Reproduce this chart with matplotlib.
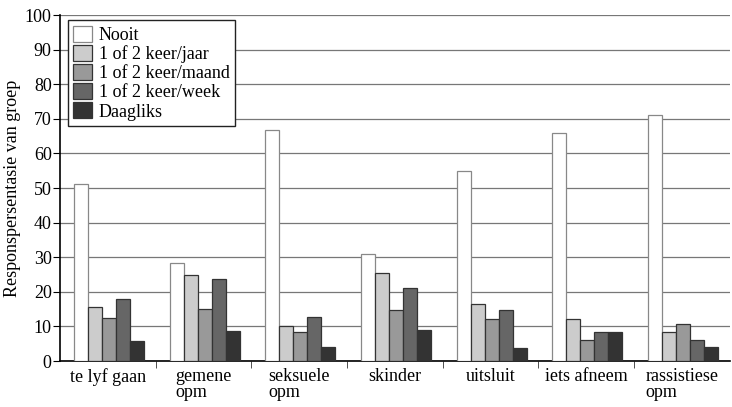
import matplotlib
matplotlib.use("Agg")
import matplotlib.pyplot as plt
import numpy as np

categories = ["te lyf gaan", "gemene\nopm", "seksuele\nopm", "skinder",
              "uitsluit", "iets afneem", "rassistiese\nopm"]
series_names = ["Nooit", "1 of 2 keer/jaar", "1 of 2 keer/maand",
                "1 of 2 keer/week", "Daagliks"]
nooit = [51.3, 28.2, 66.7, 31.0, 54.8, 66.0, 71.0]
jaar = [15.5, 25.0, 10.0, 25.3, 16.5, 12.2, 8.5]
maand = [12.3, 15.0, 8.3, 14.8, 12.2, 6.0, 10.7]
week = [17.8, 23.8, 12.7, 21.2, 14.8, 8.3, 6.0]
daagliks = [5.8, 8.7, 4.0, 9.0, 3.7, 8.3, 4.0]
colors = ["#ffffff", "#cccccc", "#999999", "#666666", "#333333"]

plt.rcParams['font.family'] = ['Liberation Serif', 'DejaVu Serif']

fig = plt.figure(figsize=(7.32, 4.07), dpi=100)
ax = fig.add_axes([0.082, 0.113, 0.915, 0.85])

x = np.arange(len(categories))
w = 0.146
for j, vals in enumerate([nooit, jaar, maand, week, daagliks]):
    ec = "#888888" if j == 0 else "#333333"
    ax.bar(x + w + w * (j + 0.5), vals, w, color=colors[j], edgecolor=ec,
           linewidth=0.9, label=series_names[j], zorder=3)

ax.set_xlim(0, len(categories))
ax.set_ylim(0, 100)
ax.set_yticks(range(0, 101, 10))
ax.yaxis.grid(True, color="#777777", linewidth=0.9, zorder=0)
ax.set_xticks(x + 0.5)
ax.set_xticklabels(categories, fontsize=13, multialignment="left",
                   linespacing=0.95)
ax.set_xticks(np.arange(1, len(categories)), minor=True)
ax.tick_params(axis="x", which="major", length=0, pad=5)
ax.tick_params(axis="x", which="minor", length=5, color="#333333")
ax.tick_params(axis="y", labelsize=13, length=5, pad=1)
ax.set_ylabel("Responspersentasie van groep", fontsize=13, labelpad=3)
for s in ["top", "right"]:
    ax.spines[s].set_visible(False)
ax.spines["left"].set_linewidth(1.2)
ax.spines["bottom"].set_linewidth(1.2)

leg = ax.legend(loc="upper left", bbox_to_anchor=(0.012, 0.985), fontsize=13,
                fancybox=False, framealpha=1, edgecolor="#222222",
                handlelength=1.0, handleheight=1.0, handletextpad=0.4,
                labelspacing=0.05, borderpad=0.3, borderaxespad=0)
leg.get_frame().set_linewidth(1.0)

fig.savefig("out.png", dpi=100)
